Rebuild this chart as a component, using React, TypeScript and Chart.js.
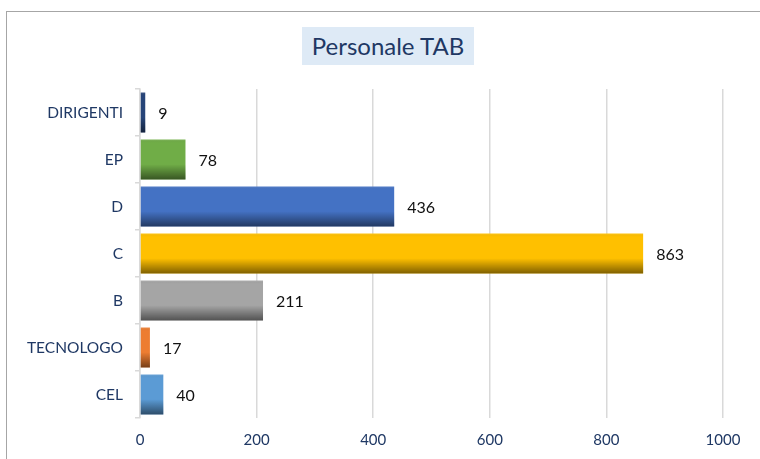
import React, { useEffect, useRef } from "react";
import { Chart, registerables } from "chart.js";

Chart.register(...registerables);

const categories = ["DIRIGENTI", "EP", "D", "C", "B", "TECNOLOGO", "CEL"];
const values = [9, 78, 436, 863, 211, 17, 40];
const barColors = ["#264478", "#70AD47", "#4472C4", "#FFC000", "#A5A5A5", "#ED7D31", "#5B9BD5"];
const xTicks = [0, 200, 400, 600, 800, 1000];
const title = "Personale TAB";

const FONT = "Lato, 'Liberation Sans', sans-serif";
const NAVY = "#1F3864";

const shadePlugin = {
  id: "shade",
  afterDatasetsDraw(chart: any) {
    const ctx = chart.ctx;
    const meta = chart.getDatasetMeta(0);
    meta.data.forEach((el: any, i: number) => {
      const p = el.getProps(["x", "y", "base", "height"], true);
      const left = Math.min(p.x, p.base);
      const w = Math.abs(p.x - p.base);
      const top = p.y - p.height / 2;
      const g = ctx.createLinearGradient(0, top, 0, top + p.height);
      g.addColorStop(0, "rgba(255,255,255,0.12)");
      g.addColorStop(0.08, "rgba(0,0,0,0)");
      g.addColorStop(0.62, "rgba(0,0,0,0)");
      g.addColorStop(1, "rgba(0,0,0,0.5)");
      ctx.save();
      ctx.fillStyle = g;
      ctx.fillRect(left, top, w, p.height);
      ctx.restore();
      ctx.save();
      ctx.font = "16px " + FONT;
      ctx.fillStyle = "#111111";
      ctx.textBaseline = "middle";
      ctx.textAlign = "left";
      ctx.fillText(String(values[i]), p.x + 13, p.y + 1);
      ctx.restore();
    });
  },
};

export default function App() {
  const ref = useRef<HTMLCanvasElement | null>(null);
  useEffect(() => {
    if (!ref.current) return;
    const chart = new Chart(ref.current, {
      type: "bar",
      data: {
        labels: categories,
        datasets: [
          {
            data: values,
            backgroundColor: barColors,
            borderWidth: 0,
            categoryPercentage: 1,
            barPercentage: 0.85,
          },
        ],
      },
      options: {
        indexAxis: "y",
        animation: false,
        responsive: false,
        maintainAspectRatio: false,
        layout: { padding: { left: 0, top: 89, right: 37, bottom: 0 } },
        plugins: { legend: { display: false }, tooltip: { enabled: false }, title: { display: false } },
        scales: {
          x: {
            min: 0,
            max: 1000,
            afterBuildTicks: (s: any) => {
              s.ticks = xTicks.map((v) => ({ value: v }));
            },
            afterFit: (s: any) => {
              s.height = 41;
            },
            grid: { color: "#D9D9D9", lineWidth: 1.5, drawTicks: false },
            border: { display: false },
            ticks: {
              color: NAVY,
              font: { family: FONT, size: 15 },
              padding: 13,
              callback: (v: any) => String(v),
            },
          },
          y: {
            afterFit: (s: any) => {
              s.width = 140;
            },
            grid: { drawOnChartArea: false, drawTicks: true, tickLength: 5, color: "#D9D9D9", lineWidth: 1.5 },
            border: { display: true, color: "#D9D9D9", width: 1.5 },
            ticks: { color: NAVY, font: { family: FONT, size: 15.5 }, padding: 12 },
          },
        },
      },
      plugins: [shadePlugin],
    } as any);
    return () => chart.destroy();
  }, []);

  return (
    <div style={{ position: "fixed", left: 0, top: 0, width: 760, height: 459, background: "#fff", overflow: "hidden" }}>
      <div
        style={{
          position: "absolute",
          left: 6,
          top: 11,
          width: 800,
          height: 500,
          borderTop: "1.5px solid #A6A6A6",
          borderLeft: "1.5px solid #A6A6A6",
        }}
      />
      <div
        style={{
          position: "absolute",
          left: 302,
          top: 27,
          width: 172,
          height: 38,
          background: "#DEEAF6",
          color: NAVY,
          fontFamily: FONT,
          fontSize: 24,
          lineHeight: "38px",
          textAlign: "center",
        }}
      >
        {title}
      </div>
      <canvas ref={ref} width={760} height={459} style={{ position: "absolute", left: 0, top: 0 }} />
    </div>
  );
}
